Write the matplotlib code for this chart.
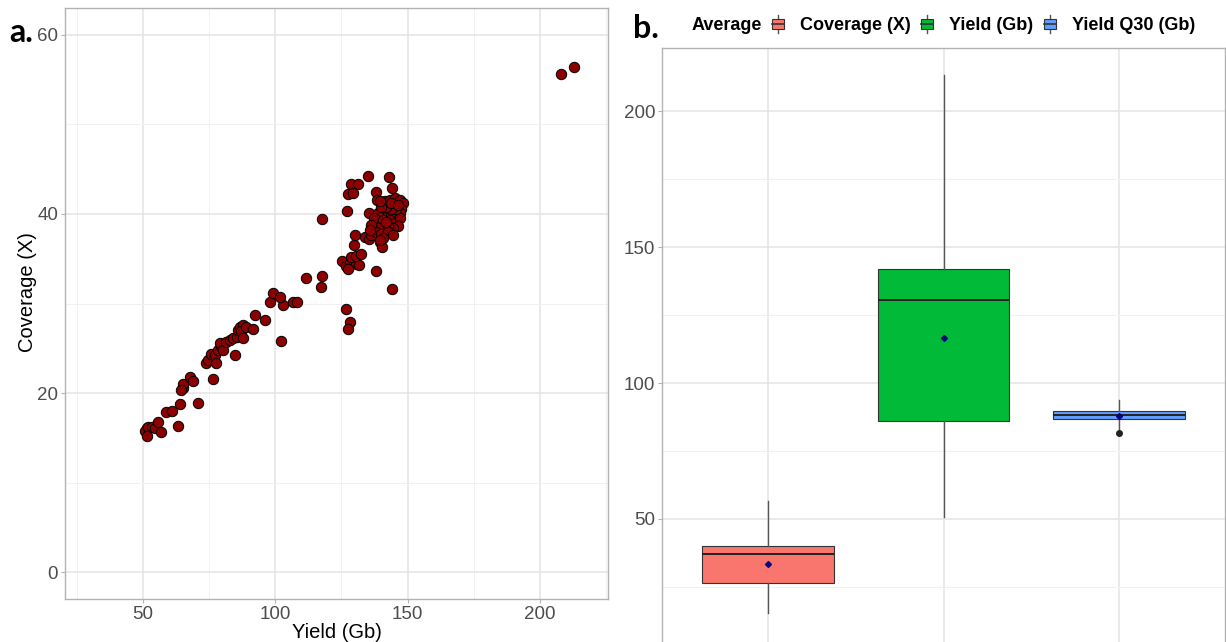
import numpy as np
import matplotlib
matplotlib.use("Agg")
import matplotlib.pyplot as plt
from matplotlib.patches import Rectangle
from matplotlib.lines import Line2D
from matplotlib.legend_handler import HandlerBase

plt.rcParams['font.family'] = ['Liberation Sans', 'DejaVu Sans']

# per-sample yield (Gb) vs coverage (X)
yield_gb = [
    51.4, 50.8, 52.0, 51.4, 53.3, 54.5, 55.8, 56.7, 58.9, 61.2, 63.3, 64.2,
    65.2, 65.0, 64.6, 67.7, 69.0, 71.0, 73.8, 74.6, 76.5, 75.9, 77.2, 77.8,
    78.4, 79.7, 79.3, 80.3, 81.6, 82.8, 84.1, 85.4, 86.0, 86.6, 87.8, 87.2,
    84.7, 87.8, 89.1, 91.6, 92.3, 96.0, 97.9, 102.3, 102.9, 106.7, 108.2,
    99.2, 101.7,
    111.8, 117.8, 117.4, 117.8, 126.6, 128.1, 127.5, 125.4, 126.6, 128.1,
    130.7, 127.5, 131.6, 128.8, 130.7, 132.5, 129.6, 130.0, 133.8, 135.4,
    139.4, 140.5, 138.2, 144.2, 127.2, 135.3, 135.0, 142.9, 128.8, 131.2,
    127.5, 129.4, 137.9, 144.2, 138.4,
    141.3, 143.2, 145.1, 147.0, 148.2, 147.6, 147.0, 145.7, 143.8, 142.0,
    140.1, 138.8, 137.5, 140.7, 143.2, 145.1, 147.0, 146.3, 144.5, 142.6,
    140.7, 138.8, 136.9, 136.3, 138.2, 140.1, 142.6, 140.7, 139.4, 136.3,
    135.7, 145.7, 143.8, 142.0, 140.1, 139.4, 143.8, 146.3, 142.0, 144.5,
    207.9, 212.8,
]
coverage_x = [
    16.1, 15.8, 16.2, 15.2, 16.2, 16.1, 16.8, 15.7, 17.9, 18.0, 16.3, 18.8,
    20.6, 21.0, 20.3, 21.8, 21.4, 18.9, 23.3, 23.7, 21.6, 24.4, 24.2, 23.3,
    24.8, 25.2, 25.6, 24.8, 25.7, 25.9, 26.1, 26.3, 27.0, 27.4, 27.6, 26.9,
    24.2, 26.1, 27.4, 27.2, 28.7, 28.2, 30.2, 25.8, 29.8, 30.2, 30.2,
    31.2, 30.7,
    32.9, 33.1, 31.8, 39.4, 29.4, 27.9, 27.2, 34.7, 34.2, 34.5,
    34.4, 33.9, 34.3, 35.2, 35.3, 35.5, 36.5, 37.65, 37.4, 37.2,
    36.9, 36.35, 33.6, 31.6, 40.3, 40.1, 44.2, 44.1, 43.3, 43.4,
    42.2, 42.3, 42.5, 42.9, 41.6,
    41.4, 41.6, 41.75, 41.6, 41.2, 40.6, 40.1, 39.7, 39.9, 40.1,
    39.9, 40.1, 39.5, 39.3, 39.3, 38.95, 39.5, 38.6, 38.4, 38.6,
    38.4, 38.4, 38.2, 37.65, 38.0, 37.8, 38.0, 37.3, 37.1, 38.8,
    38.2, 40.6, 40.6, 40.8, 40.8, 41.4, 41.2, 41.0, 39.1, 37.65,
    55.6, 56.4,
]

# summary statistics for panel b
box_labels = ['Coverage (X)', 'Yield (Gb)', 'Yield Q30 (Gb)']
box_whislo = [15.4, 50.7, 82.8]
box_q1 = [26.5, 86.1, 86.8]
box_med = [37.2, 130.5, 88.3]
box_q3 = [40.1, 141.8, 89.7]
box_whishi = [56.6, 213.2, 93.9]
box_mean = [33.5, 116.7, 88.0]
box_fliers = [[], [], [81.5]]
box_colors = ['#F8766D', '#00BA38', '#619CFF']

GRID_MAJ = '#E4E4E4'
GRID_MIN = '#F1F1F1'
BORDER = '#B3B3B3'
TICKCOL = '#4D4D4D'


def style_axes(ax):
    ax.set_facecolor('white')
    for s in ax.spines.values():
        s.set_color(BORDER)
        s.set_linewidth(1.0)
    ax.grid(which='major', color=GRID_MAJ, lw=1.1)
    ax.grid(which='minor', color=GRID_MIN, lw=0.7)
    ax.set_axisbelow(True)
    ax.tick_params(which='major', colors=BORDER, labelcolor=TICKCOL,
                   labelsize=13.5, length=3, width=0.8, pad=2)
    ax.tick_params(which='minor', length=0)


W, H = 1226, 642
fig = plt.figure(figsize=(W / 100, H / 100), dpi=100)

# --- panel a: scatter
ax1 = fig.add_axes([65 / W, 1 - 599 / H, (608 - 65) / W, (599 - 8) / H])
style_axes(ax1)
ax1.scatter(yield_gb, coverage_x, s=56, c='#8B0000', edgecolors='black',
            linewidths=0.7, zorder=3)
ax1.set_xlim(20.6, 225.7)
ax1.set_ylim(-3.0, 63.0)
ax1.set_xticks([50, 100, 150, 200])
ax1.set_xticks([25, 75, 125, 175, 225], minor=True)
ax1.set_yticks([0, 20, 40, 60])
ax1.set_yticks([10, 30, 50], minor=True)
ax1.set_xlabel('Yield (Gb)', fontsize=14.5, labelpad=0)
ax1.set_ylabel('Coverage (X)', fontsize=14.5)
ax1.yaxis.set_label_coords(-28 / 543, 0.52)

# --- panel b: boxplots
ax2 = fig.add_axes([662 / W, 1 - 643 / H, (1225 - 662) / W, (643 - 48) / H])
style_axes(ax2)
stats = []
for i in range(3):
    stats.append(dict(label=box_labels[i], whislo=box_whislo[i],
                      q1=box_q1[i], med=box_med[i], q3=box_q3[i],
                      whishi=box_whishi[i], mean=box_mean[i],
                      fliers=box_fliers[i]))
bp = ax2.bxp(stats, positions=[1, 2, 3], widths=0.75, patch_artist=True,
             showmeans=True, showcaps=False,
             boxprops=dict(edgecolor='#333333', lw=0.8),
             medianprops=dict(color='#222222', lw=1.4),
             whiskerprops=dict(color='#555555', lw=1.0),
             meanprops=dict(marker='D', markerfacecolor='#00008B',
                            markeredgecolor='#00008B', markersize=3),
             flierprops=dict(marker='o', markerfacecolor='#222222',
                             markeredgecolor='#222222', markersize=4))
for patch, col in zip(bp['boxes'], box_colors):
    patch.set_facecolor(col)
    patch.set_zorder(2)
ax2.set_xlim(0.4, 3.6)
ax2.set_ylim(4.4, 223.2)
ax2.set_xticks([1, 2, 3])
ax2.set_xticklabels([])
ax2.tick_params(axis='x', length=0)
ax2.set_yticks([50, 100, 150, 200])
ax2.set_yticks([25, 75, 125, 175], minor=True)


class BoxKey(HandlerBase):
    def create_artists(self, legend, orig_handle, xdescent, ydescent,
                       width, height, fontsize, trans):
        x0, y0 = -xdescent, -ydescent
        cx = x0 + width / 2
        bw = width * 1.1
        rect = Rectangle((cx - bw / 2, y0 + height * 0.12), bw, height * 0.76,
                         facecolor=orig_handle.get_facecolor(),
                         edgecolor='#333333', lw=0.8, transform=trans)
        wl = Line2D([cx, cx], [y0 - height * 0.2, y0 + height * 1.2],
                    color='#555555', lw=1.0, transform=trans)
        ml = Line2D([cx - bw / 2, cx + bw / 2], [y0 + height * 0.5] * 2,
                    color='#333333', lw=1.2, transform=trans)
        return [wl, rect, ml]


handles = [Rectangle((0, 0), 1, 1, facecolor=c) for c in box_colors]
leg = fig.legend(handles, box_labels, loc='center left',
                 bbox_to_anchor=(773 / W, 1 - 26 / H), ncol=3,
                 frameon=False, handler_map={Rectangle: BoxKey()},
                 handlelength=0.6, handleheight=0.7, handletextpad=0.9,
                 columnspacing=0.62, borderpad=0, borderaxespad=0,
                 prop=dict(weight='bold', size=13))
fig.text(692 / W, 1 - 26 / H, 'Average', fontsize=13, fontweight='bold',
         ha='left', va='center')

# panel tags
fig.text(9 / W, 1 - 33 / H, 'a.', fontsize=23, fontweight='bold',
         family=['Lato', 'DejaVu Sans'], ha='left', va='center')
fig.text(633 / W, 1 - 29 / H, 'b.', fontsize=23, fontweight='bold',
         family=['Lato', 'DejaVu Sans'], ha='left', va='center')

fig.savefig('out.png', dpi=100, facecolor='white')
